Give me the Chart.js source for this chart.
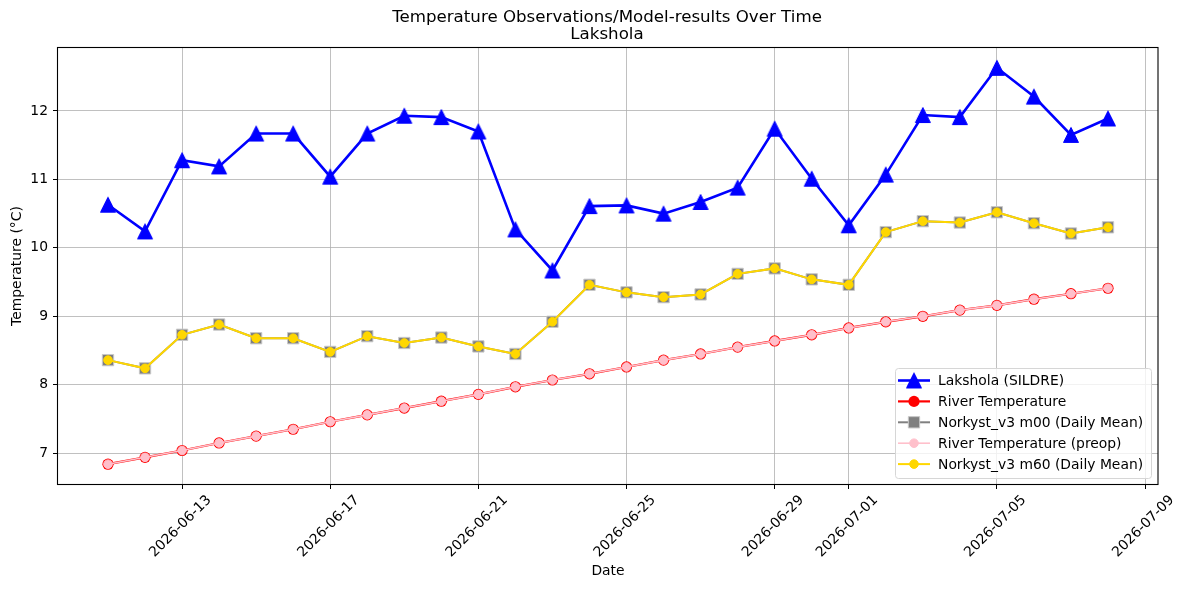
<!DOCTYPE html>
<html>
<head>
<meta charset="utf-8">
<script src="https://cdn.jsdelivr.net/npm/chart.js@4.4.1/dist/chart.umd.min.js"></script>
<style>
html, body { margin: 0; padding: 0; background: #ffffff; }
#wrap { width: 1187px; height: 590px; position: relative; }
</style>
</head>
<body>
<div id="wrap"><canvas id="c" width="1187" height="590"></canvas></div>
<script>
// ---- data ----
const dates = [
  '2026-06-11','2026-06-12','2026-06-13','2026-06-14','2026-06-15','2026-06-16','2026-06-17',
  '2026-06-18','2026-06-19','2026-06-20','2026-06-21','2026-06-22','2026-06-23','2026-06-24',
  '2026-06-25','2026-06-26','2026-06-27','2026-06-28','2026-06-29','2026-06-30','2026-07-01',
  '2026-07-02','2026-07-03','2026-07-04','2026-07-05','2026-07-06','2026-07-07','2026-07-08'
];
const lakshola = [
  10.63, 10.24, 11.28, 11.19, 11.67, 11.67, 11.04,
  11.67, 11.93, 11.91, 11.70, 10.27, 9.67, 10.61,
  10.62, 10.50, 10.67, 10.88, 11.74, 11.01, 10.33,
  11.07, 11.94, 11.91, 12.63, 12.21, 11.65, 11.89
];
const riverTemp = [
  6.84, 6.94, 7.04, 7.15, 7.25, 7.35, 7.46,
  7.56, 7.66, 7.76, 7.86, 7.97, 8.07, 8.16,
  8.26, 8.36, 8.45, 8.55, 8.64, 8.73, 8.83,
  8.92, 9.00, 9.09, 9.16, 9.25, 9.33, 9.41
];
const norkystM00 = [
  8.36, 8.24, 8.73, 8.88, 8.68, 8.68, 8.48,
  8.71, 8.61, 8.69, 8.56, 8.45, 8.92, 9.46,
  9.35, 9.28, 9.32, 9.62, 9.70, 9.54, 9.46,
  10.23, 10.39, 10.37, 10.52, 10.36, 10.21, 10.30
];
const riverPreop = [
  6.84, 6.94, 7.04, 7.15, 7.25, 7.35, 7.46,
  7.56, 7.66, 7.76, 7.86, 7.97, 8.07, 8.16,
  8.26, 8.36, 8.45, 8.55, 8.64, 8.73, 8.83,
  8.92, 9.00, 9.09, 9.16, 9.25, 9.33, 9.41
];
const norkystM60 = [
  8.36, 8.24, 8.73, 8.88, 8.68, 8.68, 8.48,
  8.71, 8.61, 8.69, 8.56, 8.45, 8.92, 9.46,
  9.35, 9.28, 9.32, 9.62, 9.70, 9.54, 9.46,
  10.23, 10.39, 10.37, 10.52, 10.36, 10.21, 10.30
];
const xTickLabels = ['2026-06-13','2026-06-17','2026-06-21','2026-06-25','2026-06-29','2026-07-01','2026-07-05','2026-07-09'];
const yTickValues = [7, 8, 9, 10, 11, 12];
const titleLines = ['Temperature Observations/Model-results Over Time', 'Lakshola'];

// ---- helpers ----
const DAY = 86400000;
const t0 = Date.parse(dates[0]);
const toDay = s => (Date.parse(s) - t0) / DAY;
const pts = arr => dates.map((d, i) => ({ x: toDay(d), y: arr[i] }));

const FONT = "'DejaVu Sans', 'Liberation Sans', sans-serif";

function makeTriangle(color, side) {
  const c = document.createElement('canvas');
  const sz = Math.ceil(side + 3);
  c.width = sz; c.height = sz;
  const g = c.getContext('2d');
  const cx = sz / 2, cy = sz / 2, h = side / 2;
  g.beginPath();
  g.moveTo(cx, cy - h);
  g.lineTo(cx - h, cy + h);
  g.lineTo(cx + h, cy + h);
  g.closePath();
  g.fillStyle = color; g.fill();
  g.lineWidth = 1; g.strokeStyle = color; g.lineJoin = 'miter'; g.stroke();
  return c;
}
const triBlue = makeTriangle('#0000ff', 15);

// axis ranges with 5% margins (matplotlib style)
const allY = [].concat(lakshola, riverTemp, norkystM00, riverPreop, norkystM60);
const yLo = Math.min(...allY), yHi = Math.max(...allY);
const yPad = (yHi - yLo) * 0.05;
const xLo = 0, xHi = toDay(dates[dates.length - 1]);
const xPad = (xHi - xLo) * 0.05;

const datasets = [
  { label: 'Lakshola (SILDRE)', data: pts(lakshola), borderColor: '#0000ff', backgroundColor: '#0000ff',
    borderWidth: 2.6, pointStyle: triBlue, pointRadius: 8, order: 5 },
  { label: 'River Temperature', data: pts(riverTemp), borderColor: '#ff0000', backgroundColor: '#ff0000',
    borderWidth: 2.2, pointStyle: 'circle', pointRadius: 5.6, pointBorderWidth: 0, pointBackgroundColor: '#ff0000', order: 4 },
  { label: 'Norkyst_v3 m00 (Daily Mean)', data: pts(norkystM00), borderColor: '#808080', backgroundColor: '#808080',
    borderWidth: 2, pointStyle: 'rect', pointRadius: 8, pointBorderWidth: 1, pointBorderColor: '#c8c8c8', pointBackgroundColor: '#808080', order: 3 },
  { label: 'River Temperature (preop)', data: pts(riverPreop), borderColor: '#ffc0cb', backgroundColor: '#ffc0cb',
    borderWidth: 1.6, pointStyle: 'circle', pointRadius: 4.3, pointBorderWidth: 1, pointBorderColor: '#ffc0cb', pointBackgroundColor: '#ffc0cb', order: 2 },
  { label: 'Norkyst_v3 m60 (Daily Mean)', data: pts(norkystM60), borderColor: '#ffd700', backgroundColor: '#ffd700',
    borderWidth: 2, pointStyle: 'circle', pointRadius: 4.3, pointBorderWidth: 1, pointBorderColor: '#ffd700', pointBackgroundColor: '#ffd700', order: 1 }
];
datasets.forEach(d => { d.tension = 0; d.fill = false; d.pointHoverRadius = d.pointRadius; d.showLine = true; });

const titlePlugin = {
  id: 'mplTitle',
  afterDraw(chart) {
    const { ctx, chartArea } = chart;
    const cx = (chartArea.left + chartArea.right) / 2;
    ctx.save();
    ctx.fillStyle = '#000';
    ctx.font = '16.67px ' + FONT;
    ctx.textAlign = 'center';
    ctx.textBaseline = 'alphabetic';
    ctx.fillText(titleLines[0], cx - 1, 22);
    ctx.fillText(titleLines[1], cx - 1, 38.5);
    ctx.restore();
  }
};

const framePlugin = {
  id: 'mplFrame',
  afterDatasetsDraw(chart) {
    const { ctx, chartArea: a } = chart;
    ctx.save();
    ctx.strokeStyle = '#000';
    ctx.lineWidth = 1.1;
    ctx.strokeRect(a.left - 0.5, a.top - 0.5, a.right - a.left + 0.5, a.bottom - a.top + 1);
    ctx.restore();
  }
};

const legendPlugin = {
  id: 'mplLegend',
  afterDraw(chart) {
    const { ctx, chartArea: a } = chart;
    const w = 256, h = 110;
    const x0 = a.right - 7 - w, y0 = a.bottom - 6 - h;
    ctx.save();
    ctx.beginPath();
    ctx.roundRect(x0 + 0.5, y0 + 0.5, w, h, 3);
    ctx.fillStyle = 'rgba(255,255,255,0.8)';
    ctx.fill();
    ctx.strokeStyle = '#d6d6d6';
    ctx.lineWidth = 1;
    ctx.stroke();
    const ds = chart.data.datasets;
    ctx.font = '13.89px ' + FONT;
    ctx.textBaseline = 'middle';
    ctx.textAlign = 'left';
    for (let i = 0; i < ds.length; i++) {
      const d = ds[i];
      const y = y0 + 12.5 + i * 20.9;
      const lx0 = x0 + 3, lx1 = x0 + 35, mx = (lx0 + lx1) / 2;
      ctx.beginPath();
      ctx.moveTo(lx0, y); ctx.lineTo(lx1, y);
      ctx.strokeStyle = d.borderColor; ctx.lineWidth = d.borderWidth;
      ctx.stroke();
      ctx.fillStyle = d.pointBackgroundColor || d.backgroundColor;
      ctx.strokeStyle = d.pointBorderColor || d.borderColor;
      ctx.lineWidth = d.pointBorderWidth || 0;
      Chart.helpers.drawPoint(ctx, { pointStyle: d.pointStyle, rotation: 0, radius: d.pointRadius, borderWidth: d.pointBorderWidth || 0 }, mx, y);
      ctx.fillStyle = '#000';
      ctx.fillText(d.label, x0 + 43, y + 1);
    }
    ctx.restore();
  }
};

new Chart(document.getElementById('c'), {
  type: 'line',
  data: { datasets },
  options: {
    responsive: false,
    devicePixelRatio: 1,
    animation: false,
    events: [],
    layout: { padding: { left: 0, right: 29, top: 48, bottom: 0 } },
    plugins: { legend: { display: false }, title: { display: false }, tooltip: { enabled: false } },
    scales: {
      x: {
        type: 'linear',
        min: xLo - xPad,
        max: xHi + xPad,
        afterBuildTicks: s => { s.ticks = xTickLabels.map(l => ({ value: toDay(l) })); },
        afterFit: s => { s.height = 106; s.paddingLeft = 0; s.paddingRight = 0; },
        ticks: {
          autoSkip: false, maxRotation: 45, minRotation: 45,
          color: '#000', font: { family: FONT, size: 13.89 }, padding: 3, labelOffset: 27,
          callback: (v, i) => xTickLabels[i]
        },
        grid: { color: '#b0b0b0', lineWidth: 0.8, tickColor: '#000', tickLength: 5, tickWidth: 1 },
        border: { display: false },
        title: { display: true, text: 'Date', color: '#000', font: { family: FONT, size: 13.89 }, padding: { top: 0, bottom: 10 } }
      },
      y: {
        type: 'linear',
        min: yLo - yPad,
        max: yHi + yPad,
        afterBuildTicks: s => { s.ticks = yTickValues.map(v => ({ value: v })); },
        afterFit: s => { s.width = 58; s.paddingTop = 0; s.paddingBottom = 0; },
        ticks: { color: '#000', font: { family: FONT, size: 13.89 }, padding: 5, callback: v => String(v) },
        grid: { color: '#b0b0b0', lineWidth: 0.8, tickColor: '#000', tickLength: 5, tickWidth: 1 },
        border: { display: false },
        title: { display: true, text: 'Temperature (°C)', color: '#000', font: { family: FONT, size: 13.89 }, padding: { top: 9, bottom: 0 } }
      }
    }
  },
  plugins: [titlePlugin, framePlugin, legendPlugin]
});
</script>
</body>
</html>
